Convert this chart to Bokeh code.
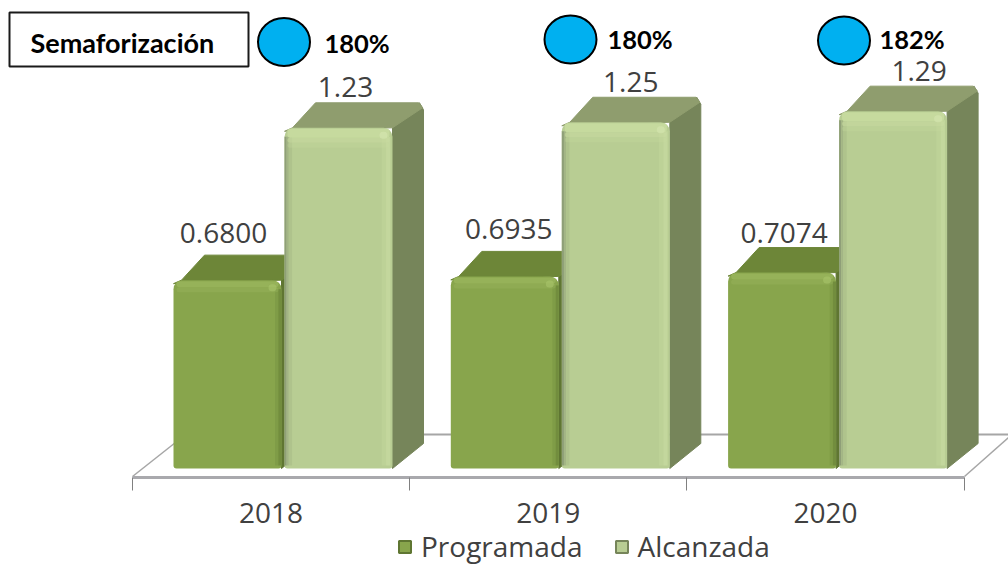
from bokeh.plotting import figure
from bokeh.models import Range1d, LinearAxis, FixedTicker, Legend, LegendItem
from bokeh.embed import file_html
from bokeh.resources import INLINE
from bokeh.core.properties import value

# ---- data ----
years = ["2018", "2019", "2020"]
programada = [0.6800, 0.6935, 0.7074]
alcanzada = [1.23, 1.25, 1.29]
programada_labels = ["0.6800", "0.6935", "0.7074"]
alcanzada_labels = ["1.23", "1.25", "1.29"]
semaforo = ["180%", "180%", "182%"]
title_text = "Semaforización"

# ---- layout (pixel scale of the chart) ----
W, H = 1008, 565
X0, XU = 270.5, 277.3     # px of first category, px per category
Y0, YU = 468.0, 277.0     # px of value 0, px per value unit
FLOOR = 477.0
LABEL_FONT = "Open Sans"
LABEL_SIZE = "28px"
LABEL_COLOR = "#404040"


def ux(px):
    return px / XU


def uy(px):
    return px / YU


def dx(px):
    return (px - X0) / XU


def dy(py):
    return (Y0 - py) / YU


BAR_W = ux(108)
OFF_P, OFF_A = ux(-43.5), ux(67.5)
DEPTH_X, DEPTH_Y = ux(31), uy(25)
CH_X, CH_Y = ux(8), uy(7)

p = figure(width=W, height=H, output_backend="svg", toolbar_location=None,
           x_range=Range1d(dx(0), dx(W)), y_range=Range1d(dy(H), dy(0)),
           min_border_left=0, min_border_right=0, min_border_top=0, min_border_bottom=0,
           outline_line_color=None, background_fill_color="white", border_fill_color="white",
           y_axis_location=None, x_axis_location=None)
p.grid.visible = False

# floor
FL = "#a9a9ad"
p.segment([dx(180)], [dy(434)], [dx(1008)], [dy(434)], line_color="#a6a6a6", line_width=2)
p.segment([dx(132), dx(964)], [dy(476), dy(476)], [dx(175), dx(1008)], [dy(442), dy(437)],
          line_color="#a6a6a6", line_width=1.5)


def bar_series(vals, off, front, top, side, hi, spot, strips, band):
    xl = [i + off - BAR_W / 2 for i in range(len(vals))]
    xr = [i + off + BAR_W / 2 for i in range(len(vals))]
    # side face
    sx = [[r, r + DEPTH_X, r + DEPTH_X, r + DEPTH_X - CH_X * .5, r] for r in xr]
    sy = [[0, DEPTH_Y, v + DEPTH_Y - CH_Y, v + DEPTH_Y, v] for v in vals]
    p.patches(sx, sy, fill_color=side, line_color=side, line_width=1)
    # top face
    tx = [[l, l + CH_X, l + DEPTH_X, r + DEPTH_X - CH_X * .6, r + DEPTH_X - CH_X * .1, r]
          for l, r in zip(xl, xr)]
    ty = [[v - CH_Y * .5, v, v + DEPTH_Y, v + DEPTH_Y, v + DEPTH_Y - CH_Y * .7, v] for v in vals]
    p.patches(tx, ty, fill_color=top, line_color=top, line_width=1)
    # outlined version of the bars, covered by the front faces: the legend swatch comes from it
    swatch = p.quad(left=[l + ux(4) for l in xl], right=[r - ux(4) for r in xr], top=[v - uy(4) for v in vals],
                    bottom=[uy(4)] * len(vals), fill_color=front, line_color=side, line_width=2)
    # front face
    p.quad(left=xl, right=xr, top=vals, bottom=[0] * len(vals), fill_color=front,
           line_color=None, border_radius=(9, 9, 3, 3))
    # edge shading
    for a, b, c in strips:
        p.quad(left=[l + a * BAR_W for l in xl], right=[l + b * BAR_W for l in xl],
               top=[v - uy(9) for v in vals], bottom=[uy(3)] * len(vals), fill_color=c, line_color=None)
    # highlight under the top edge
    for t, b, alpha in band:
        p.quad(left=[l + ux(3) for l in xl], right=[r - ux(3) for r in xr],
               top=[v - uy(t) for v in vals], bottom=[v - uy(b) for v in vals],
               fill_color=hi, fill_alpha=alpha, line_color=None, border_radius=3)
    # soft bright spot at the front corner
    p.quad(left=[r - ux(13) for r in xr], right=[r - ux(5) for r in xr],
           top=[v - uy(4) for v in vals], bottom=[v - uy(11) for v in vals],
           fill_color=spot, fill_alpha=.6, line_color=None, border_radius=4)
    return swatch


strips_p = [(.94, .97, "#7f9c47"), (.97, 1, "#728d3e")]
strips_a = [(0, .02, "#8f9f78"), (.02, .04, "#a3b585"), (.04, .07, "#afc38c"),
            (.90, .94, "#bdd297"), (.94, .98, "#c3d79d")]

BAND_P = [(1, 7, .6), (7, 12, .3)]
BAND_A = [(1, 10, .9), (10, 15, .6), (15, 20, .3)]
r_p = bar_series(programada, OFF_P, "#88a54c", "#6d8638", "#5f7632", "#a0bb62", "#a9c46a", strips_p, BAND_P)
r_a = bar_series(alcanzada, OFF_A, "#b8cd93", "#8f9d6e", "#76855a", "#c8dba0", "#d6e6b0", strips_a, BAND_A)

# data labels
lab_p_dx = [-4, 4, 2]
lab_a_dx = [7, 15, 26]
p.text(x=[i + OFF_P for i in range(3)], y=programada, text=programada_labels,
       x_offset=lab_p_dx, y_offset=[-47, -47, -40], text_align="center", text_baseline="middle",
       text_font=value(LABEL_FONT), text_font_size=LABEL_SIZE, text_color=LABEL_COLOR)
p.text(x=[i + OFF_A for i in range(3)], y=alcanzada, text=alcanzada_labels,
       x_offset=lab_a_dx, y_offset=[-41, -40, -40], text_align="center", text_baseline="middle",
       text_font=value(LABEL_FONT), text_font_size=LABEL_SIZE, text_color=LABEL_COLOR)

# axis, pinned to the front edge of the floor
axis = LinearAxis(ticker=FixedTicker(ticks=[0, 1, 2], minor_ticks=[-.5, .5, 1.5, 2.5]),
                  major_label_overrides={i: y for i, y in enumerate(years)},
                  bounds=(-.5, 2.5), fixed_location=dy(FLOOR))
axis.axis_line_color = FL
axis.axis_line_width = 3
axis.major_tick_line_color = None
axis.major_tick_in = 0
axis.major_tick_out = 0
axis.minor_tick_line_color = "#808080"
axis.minor_tick_in = 0
axis.minor_tick_out = 13
axis.major_label_standoff = 12
axis.major_label_text_font = LABEL_FONT
axis.major_label_text_font_size = LABEL_SIZE
axis.major_label_text_color = LABEL_COLOR
p.add_layout(axis, "below")

# legend
legend = Legend(items=[LegendItem(label="Programada", renderers=[r_p]),
                       LegendItem(label="Alcanzada", renderers=[r_a])],
                orientation="horizontal", location=(397, 0),
                border_line_color=None, background_fill_alpha=0,
                label_text_font=LABEL_FONT, label_text_font_size=LABEL_SIZE, label_text_color=LABEL_COLOR,
                glyph_width=15, glyph_height=15, spacing=31, label_standoff=9, padding=0, margin=0)
p.add_layout(legend)

# semaforización header
p.quad(left=[dx(9)], right=[dx(248)], top=[dy(12)], bottom=[dy(66)], fill_color="white",
       line_color="#1a1a1a", line_width=2)
p.text(x=[dx(30)], y=[dy(42)], text=[title_text], text_baseline="middle",
       text_font=value("Lato"), text_font_style="bold", text_font_size="27px", text_color="black")
p.ellipse(x=[dx(283.5), dx(570), dx(843.5)], y=[dy(41.5), dy(39), dy(40)],
          width=[ux(52)] * 3, height=[uy(48)] * 3, fill_color="#00b0f0", line_color="black", line_width=2)
p.text(x=[dx(324), dx(607), dx(879)], y=[dy(42), dy(38), dy(38)], text=semaforo, text_baseline="middle",
       text_font=value("Lato"), text_font_style="bold", text_font_size="25.5px", text_color="black")

open("out.html", "w").write(file_html(p, INLINE))
